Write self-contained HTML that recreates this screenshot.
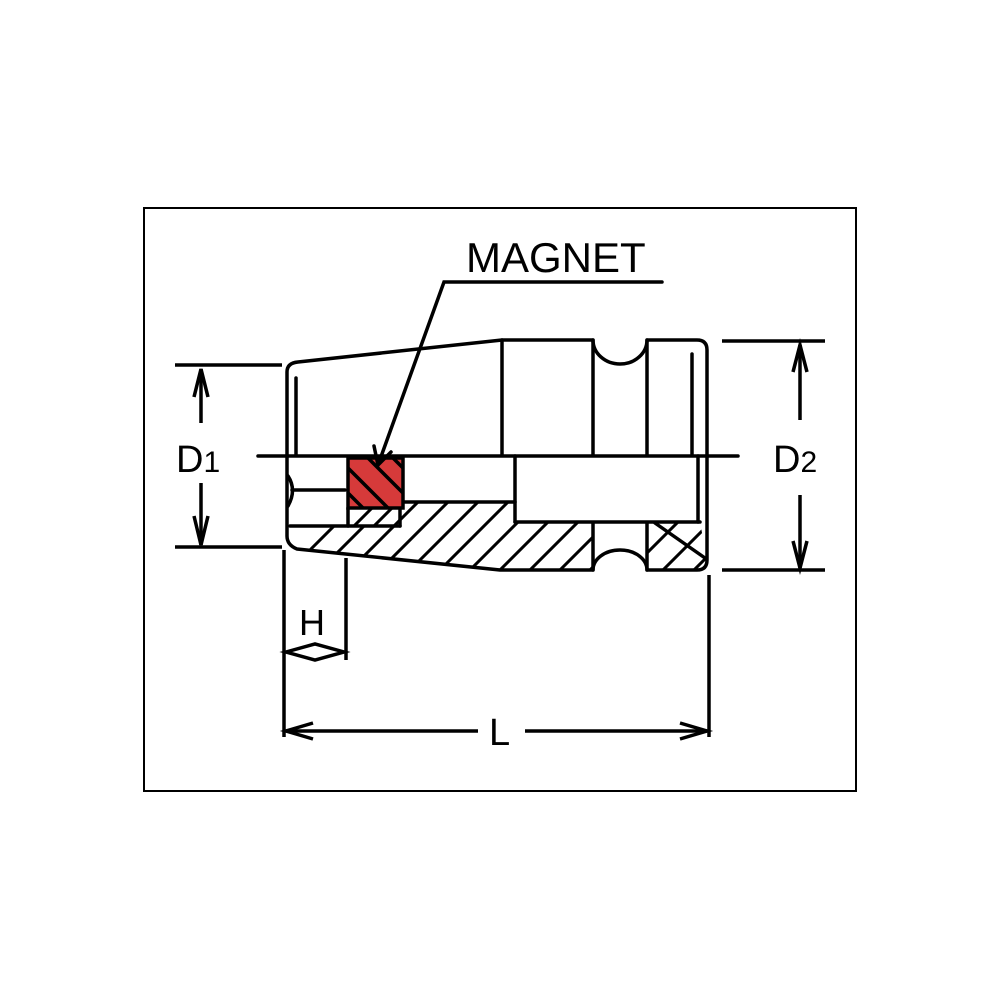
<!DOCTYPE html>
<html><head><style>body{margin:0;background:#fff}svg{display:block}</style></head><body>
<svg width="1000" height="1000" viewBox="0 0 1000 1000" xmlns="http://www.w3.org/2000/svg" font-family="Liberation Sans, sans-serif">
<defs>
<clipPath id="hc1"><path d="M290,526 L400,526 L400,502 L515,502 L515,522 L593,522 L593,570 L500,570 L297,549 L290,540 Z"/></clipPath>
<clipPath id="hc2"><path d="M647,522 L700,522 L707,560 L700,570 L647,570 Z"/></clipPath>
<clipPath id="hc3"><rect x="348" y="458" width="55" height="50"/></clipPath>
<clipPath id="hc4"><rect x="348" y="508" width="52" height="18"/></clipPath>
</defs>
<rect x="144" y="208" width="712" height="583" fill="none" stroke="#000" stroke-width="2"/>
<g stroke="#000" stroke-width="3.5" fill="none" stroke-linecap="round" stroke-linejoin="round">
<path d="M298,362 L502,340 L593,340 A27,24 0 0 0 647,340 L697,340 Q707,340 707,350 L707,560 Q707,570 697,570 L647,570 A27,20 0 0 0 593,570 L500,570 L297,549 Q287,545 287,536 L287,372 Q287,363 298,362 Z"/>
<line x1="502" y1="340" x2="502" y2="455"/>
<line x1="593" y1="340" x2="593" y2="455"/>
<line x1="647" y1="340" x2="647" y2="455"/>
<line x1="593" y1="523" x2="593" y2="570"/>
<line x1="647" y1="523" x2="647" y2="570"/>
<line x1="296" y1="378" x2="296" y2="455"/>
<line x1="692" y1="354" x2="692" y2="455"/>
<line x1="258" y1="456" x2="738" y2="456"/>
<line x1="292" y1="490" x2="345" y2="490"/>
<path d="M288,476 Q297,490 288,506"/>
<line x1="290" y1="526" x2="400" y2="526"/>
<line x1="400" y1="502" x2="515" y2="502"/>
<line x1="515" y1="456" x2="515" y2="522"/>
<line x1="515" y1="522" x2="700" y2="522"/>
<line x1="698" y1="456" x2="698" y2="522"/>
<line x1="400" y1="508" x2="400" y2="526"/>
<line x1="348" y1="508" x2="348" y2="526"/>
<line x1="655" y1="523" x2="705" y2="558"/>
</g>
<rect x="348" y="458" width="55" height="50" fill="#d63a3a" stroke="#000" stroke-width="3.5"/>
<g stroke="#000" stroke-width="3.5" clip-path="url(#hc3)">
<line x1="340" y1="460" x2="400" y2="520"/><line x1="340" y1="485" x2="400" y2="545"/><line x1="360" y1="450" x2="420" y2="510"/><line x1="380" y1="445" x2="420" y2="485"/>
</g>
<g stroke="#000" stroke-width="3" clip-path="url(#hc4)">
<line x1="345" y1="535" x2="375" y2="505"/><line x1="365" y1="535" x2="395" y2="505"/><line x1="385" y1="535" x2="415" y2="505"/>
</g>
<g stroke="#000" stroke-width="3" clip-path="url(#hc1)">
<line x1="280" y1="580" x2="360" y2="500"/><line x1="310" y1="580" x2="390" y2="500"/><line x1="340" y1="580" x2="420" y2="500"/>
<line x1="370" y1="580" x2="450" y2="500"/><line x1="400" y1="580" x2="480" y2="500"/><line x1="430" y1="580" x2="510" y2="500"/>
<line x1="460" y1="580" x2="540" y2="500"/><line x1="490" y1="580" x2="570" y2="500"/><line x1="520" y1="580" x2="600" y2="500"/><line x1="550" y1="580" x2="630" y2="500"/><line x1="580" y1="580" x2="660" y2="500"/>
</g>
<g stroke="#000" stroke-width="3" clip-path="url(#hc2)">
<line x1="630" y1="570" x2="680" y2="520"/><line x1="658" y1="575" x2="710" y2="523"/><line x1="686" y1="578" x2="730" y2="534"/>
</g>
<g stroke="#000" stroke-width="3.5" fill="none" stroke-linecap="round">
<polyline points="662,282 444,282 378,465"/>
<polyline points="374,446 378,465 391,452"/>
</g>
<text x="466" y="272" font-size="42">MAGNET</text>
<g stroke="#000" stroke-width="3.5" fill="none">
<line x1="175" y1="365" x2="282" y2="365"/><line x1="175" y1="547" x2="282" y2="547"/>
<line x1="201" y1="369" x2="201" y2="423"/><line x1="201" y1="483" x2="201" y2="545"/>
<polyline points="194,397 201,369 208,397"/><polyline points="194,516 201,545 208,516"/>
<line x1="722" y1="341" x2="825" y2="341"/><line x1="722" y1="570" x2="825" y2="570"/>
<line x1="800" y1="345" x2="800" y2="420"/><line x1="800" y1="495" x2="800" y2="568"/>
<polyline points="793,372 800,345 807,372"/><polyline points="793,541 800,568 807,541"/>
<line x1="284" y1="550" x2="284" y2="737"/><line x1="346" y1="558" x2="346" y2="660"/>
<line x1="709" y1="575" x2="709" y2="737"/>
<path d="M286,652 L315,644 L344,652 L315,660 Z"/>
<line x1="286" y1="731" x2="478" y2="731"/><line x1="525" y1="731" x2="707" y2="731"/>
<polyline points="313,723 286,731 313,739"/><polyline points="680,723 707,731 680,739"/>
</g>
<text x="176" y="472" font-size="38">D<tspan font-size="30">1</tspan></text>
<text x="773" y="472" font-size="38">D<tspan font-size="30">2</tspan></text>
<text x="299" y="635" font-size="36">H</text>
<text x="489" y="745" font-size="38">L</text>
</svg>
</body></html>
